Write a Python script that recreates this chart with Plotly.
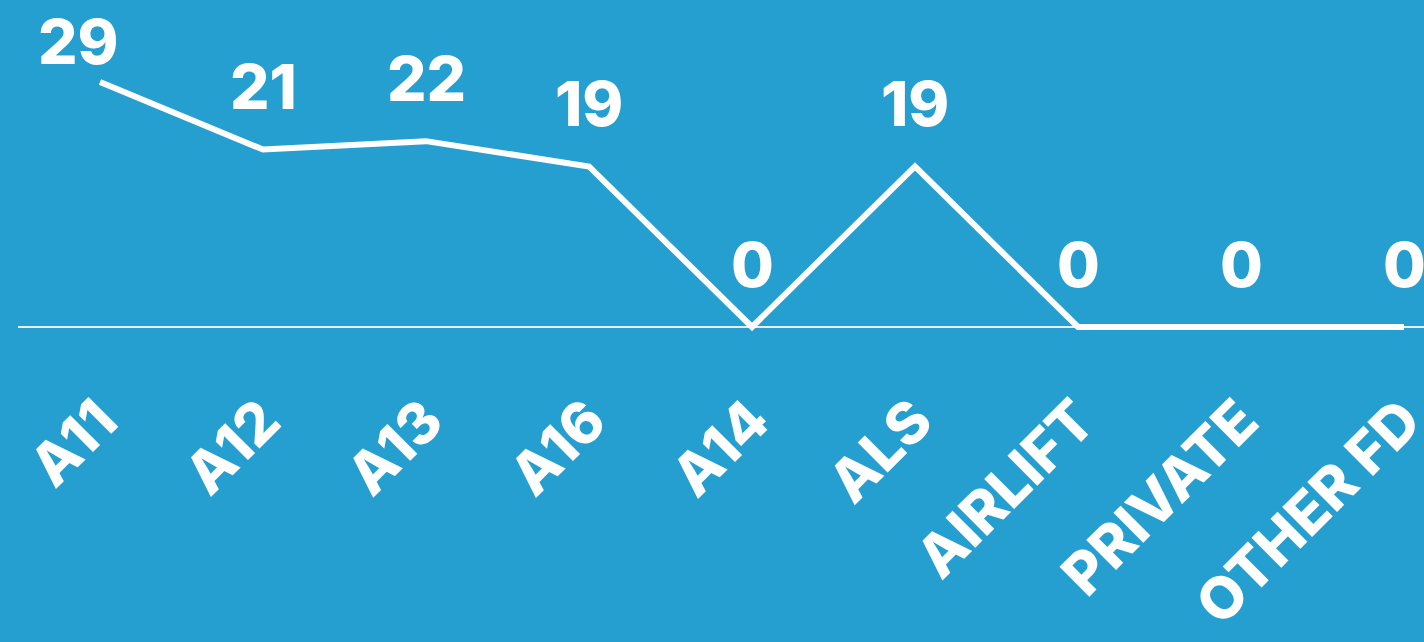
import plotly.graph_objects as go

categories = ["A11", "A12", "A13", "A16", "A14", "ALS", "AIRLIFT", "PRIVATE", "OTHER FD"]
values = [29, 21, 22, 19, 0, 19, 0, 0, 0]

BG = "#259fd0"
FONT = "Inter"

fig = go.Figure()
fig.add_trace(go.Scatter(
    x=list(range(len(categories))), y=values, mode="lines",
    line=dict(color="white", width=6), hoverinfo="skip", cliponaxis=False,
))

for i, v in enumerate(values):
    xs, ys = 0, 63
    if i == 0:
        xs, ys = -22, 41
    fig.add_annotation(
        x=i, y=v, text=str(v), showarrow=False, xshift=xs, yshift=ys,
        xanchor="center", yanchor="middle",
        font=dict(family=FONT, size=62, color="white", weight=800),
    )

px_per_unit = (327 - 82) / 29.0
ymin = -40 / px_per_unit
ymax = ymin + 367 / px_per_unit

fig.update_layout(
    width=1424, height=642,
    margin=dict(l=18, r=0, t=0, b=642 - 367, pad=0, autoexpand=False),
    paper_bgcolor=BG, plot_bgcolor=BG,
    showlegend=False,
    xaxis=dict(
        tickmode="array", tickvals=list(range(len(categories))), ticktext=categories,
        range=[-82 / 163.0, -82 / 163.0 + 1406 / 163.0],
        tickangle=-45, showgrid=False, zeroline=False, showline=False,
        tickfont=dict(family=FONT, size=58, color="white", weight=800),
        ticks="", ticklabelstandoff=7, ticklabeloverflow="allow",
        automargin=False,
    ),
    yaxis=dict(
        range=[ymin, ymax], showgrid=False, showticklabels=False,
        zeroline=True, zerolinecolor="#e8eef2", zerolinewidth=2, showline=False,
        automargin=False,
    ),
)

fig.write_html("out.html")
